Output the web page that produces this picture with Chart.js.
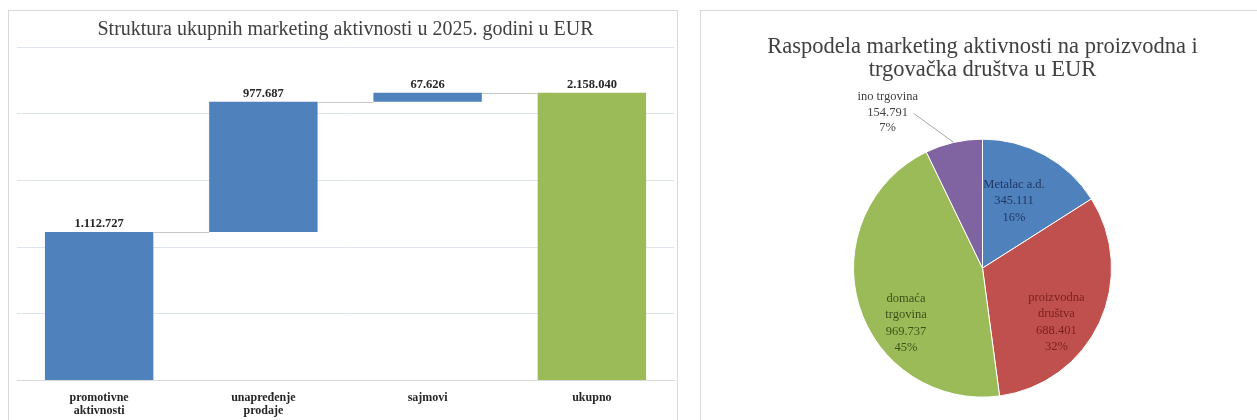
<!DOCTYPE html>
<html>
<head>
<meta charset="utf-8">
<script src="https://cdn.jsdelivr.net/npm/chart.js@4"></script>
<style>
  body { margin: 0; background: #fff; width: 1257px; height: 420px; overflow: hidden; position: relative; }
  .panel { position: absolute; border: 1px solid #d9d9d9; box-sizing: border-box; background: #fff; }
  #leftPanel { left: 8px; top: 10px; width: 670px; height: 415px; }
  #rightPanel { left: 700px; top: 10px; width: 560px; height: 415px; }
</style>
</head>
<body>
<div class="panel" id="leftPanel"><canvas id="waterfallCanvas"></canvas></div>
<div class="panel" id="rightPanel"><canvas id="pieCanvas"></canvas></div>
<script>
// waterfall data
const stepLabels = [["promotivne", "aktivnosti"], ["unapređenje", "prodaje"], "sajmovi"];
const stepValues = [1112727, 977687, 67626];
const totalLabel = "ukupno";

// pie data
const sliceNames = [["Metalac a.d."], ["proizvodna", "društva"], ["domaća", "trgovina"], ["ino trgovina"]];
const sliceValues = [345111, 688401, 969737, 154791];

const serif = '"Liberation Serif", "Times New Roman", serif';
const fmt = n => n.toString().replace(/\B(?=(\d{3})+(?!\d))/g, ".");

// build floating bars from the step values
let running = 0;
const floating = stepValues.map(v => {
  const bar = [running, running + v];
  running += v;
  return bar;
});
floating.push([0, running]);
const barValues = [...stepValues, running];

const barLabels = {
  id: "barLabels",
  afterDatasetsDraw(chart) {
    const ctx = chart.ctx;
    const meta = chart.getDatasetMeta(0);
    const y = chart.scales.y;
    ctx.save();
    // connector lines between steps
    ctx.strokeStyle = "#c8c8c8";
    ctx.lineWidth = 1;
    for (let i = 0; i < meta.data.length - 1; i++) {
      const a = meta.data[i], b = meta.data[i + 1];
      const py = Math.round(y.getPixelForValue(floating[i][1])) + 0.5;
      ctx.beginPath();
      ctx.moveTo(a.x + a.width / 2, py);
      ctx.lineTo(b.x - b.width / 2, py);
      ctx.stroke();
    }
    ctx.font = "bold 12.5px " + serif;
    ctx.fillStyle = "#262626";
    ctx.textAlign = "center";
    ctx.textBaseline = "bottom";
    meta.data.forEach((el, i) => {
      ctx.fillText(fmt(barValues[i]), el.x, el.y - 2);
    });
    ctx.restore();
  }
};

new Chart(document.getElementById("waterfallCanvas").getContext("2d"), {
  type: "bar",
  data: {
    labels: [...stepLabels, totalLabel],
    datasets: [{
      data: floating,
      backgroundColor: ["#4F81BD", "#4F81BD", "#4F81BD", "#9BBB59"],
      barPercentage: 0.66,
      categoryPercentage: 1
    }]
  },
  options: {
    responsive: true,
    maintainAspectRatio: false,
    animation: false,
    layout: { padding: { left: 8, right: 3, bottom: 3 } },
    plugins: {
      legend: { display: false },
      tooltip: { enabled: false },
      title: {
        display: true,
        text: "Struktura ukupnih marketing aktivnosti u 2025. godini u EUR",
        color: "#404040",
        font: { family: serif, size: 20, weight: "normal", lineHeight: 1.2 },
        padding: { top: 7, bottom: 5 }
      }
    },
    scales: {
      x: {
        grid: { display: false },
        border: { color: "#d9d9d9" },
        ticks: { color: "#262626", font: { family: serif, size: 12, weight: "bold", lineHeight: 1.1 }, maxRotation: 0, padding: 3 }
      },
      y: {
        min: 0,
        max: 2500000,
        ticks: { display: false, stepSize: 500000 },
        grid: { color: "#dde4ee", drawTicks: false },
        border: { display: false }
      }
    }
  },
  plugins: [barLabels]
});

const pieTotal = sliceValues.reduce((a, b) => a + b, 0);
const labelColors = ["#1F3864", "#7A1F1D", "#3D5218", "#404040"];
// label placement: fraction of radius and pixel nudge per slice
const labelRadius = [0.62, 0.7, 0.7, 1];
const labelNudge = [[-7, 3], [-8, 16], [10, 29], [-66, -30]];

const pieLabels = {
  id: "pieLabels",
  afterDatasetsDraw(chart) {
    const ctx = chart.ctx;
    const meta = chart.getDatasetMeta(0);
    ctx.save();
    ctx.font = "12.5px " + serif;
    ctx.textAlign = "center";
    ctx.textBaseline = "middle";
    meta.data.forEach((arc, i) => {
      const mid = (arc.startAngle + arc.endAngle) / 2;
      const lines = [...sliceNames[i], fmt(sliceValues[i]), Math.round(sliceValues[i] / pieTotal * 100) + "%"];
      const r = arc.outerRadius * labelRadius[i];
      const px = arc.x + Math.cos(mid) * r;
      const py = arc.y + Math.sin(mid) * r;
      const x = px + labelNudge[i][0];
      const y = py + labelNudge[i][1];
      if (labelRadius[i] >= 1) {
        ctx.strokeStyle = "#a6a6a6";
        ctx.lineWidth = 1;
        ctx.beginPath();
        ctx.moveTo(x + 26, y + 1);
        ctx.lineTo(px, py);
        ctx.stroke();
      }
      ctx.fillStyle = labelColors[i];
      const step = labelRadius[i] >= 1 ? 15.5 : 16.5;
      lines.forEach((t, k) => ctx.fillText(t, x, y + (k - (lines.length - 1) / 2) * step));
    });
    ctx.restore();
  }
};

new Chart(document.getElementById("pieCanvas").getContext("2d"), {
  type: "pie",
  data: {
    labels: sliceNames.map(n => n.join(" ")),
    datasets: [{
      data: sliceValues,
      backgroundColor: ["#4F81BD", "#C0504D", "#9BBB59", "#8064A2"],
      borderColor: "#ffffff",
      borderWidth: 1,
      radius: 129
    }]
  },
  options: {
    responsive: true,
    maintainAspectRatio: false,
    animation: false,
    layout: { padding: { left: 5 } },
    plugins: {
      legend: { display: false },
      tooltip: { enabled: false },
      title: {
        display: true,
        text: ["Raspodela marketing aktivnosti na proizvodna i", "trgovačka društva u EUR"],
        color: "#404040",
        font: { family: serif, size: 22.5, weight: "normal", lineHeight: 1.05 },
        padding: { top: 24, bottom: 30 }
      }
    }
  },
  plugins: [pieLabels]
});
</script>
</body>
</html>
